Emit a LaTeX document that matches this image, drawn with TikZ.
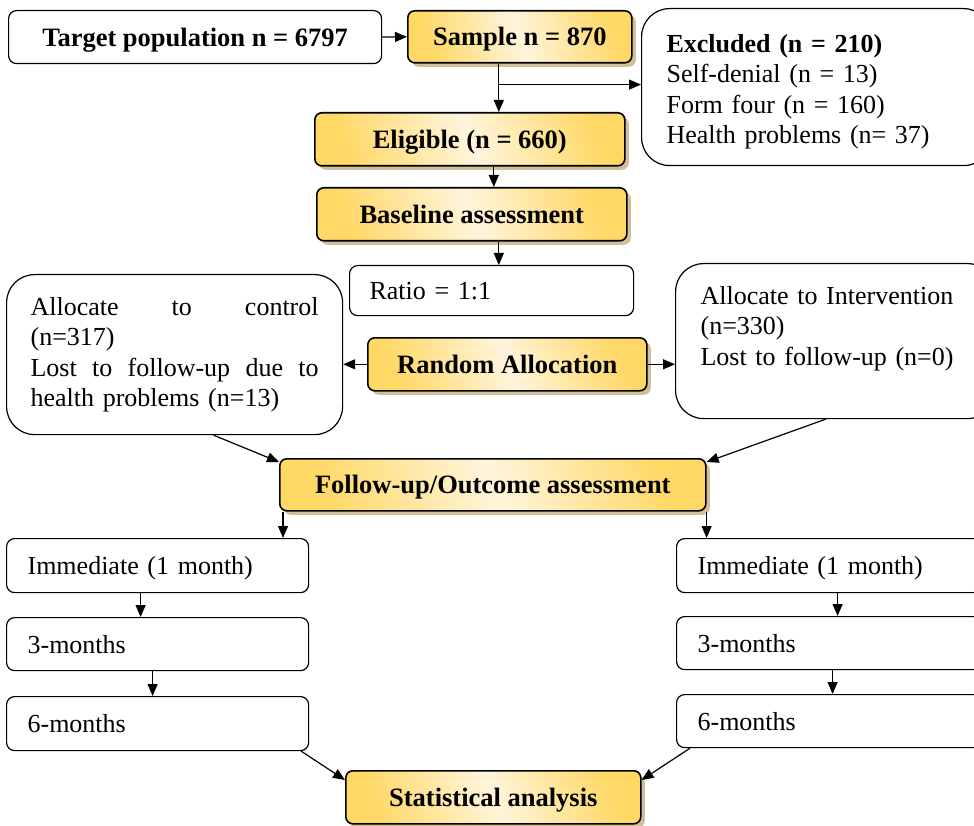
\documentclass[tikz,border=0pt]{standalone}
\usepackage{fontspec}
\setmainfont{Liberation Serif}
\usetikzlibrary{shadows,arrows.meta}
\definecolor{gold}{HTML}{FFD866}
\definecolor{lightgold}{HTML}{FFF5DC}
\definecolor{shadowc}{HTML}{CBB88C}
\begin{document}
\begin{tikzpicture}[x=1pt,y=-1pt,
  plain/.style={draw, line width=1.2pt, rounded corners=8pt, fill=white, anchor=north west,
    inner sep=0pt, font=\fontsize{26}{30.5}\selectfont},
  single/.style={text depth=0pt},
  bigbox/.style={plain, rounded corners=28pt},
  gbox/.style={draw, line width=1.6pt, rounded corners=7pt, anchor=north west, inner sep=0pt, text depth=0pt,
    drop shadow={shadow xshift=4pt, shadow yshift=-4pt, fill=shadowc, opacity=0.9},
    left color=gold, right color=gold, middle color=lightgold, shading angle=110,
    font=\bfseries\fontsize{26.5}{28}\selectfont},
  arr/.style={line width=1.2pt, -{Triangle[length=12pt,width=10pt]}}]
\useasboundingbox (0,0) rectangle (974,826);

\node[plain, single, font=\bfseries\fontsize{26.5}{28}\selectfont, minimum width=373pt, minimum height=53pt] (target) at (8,10) {Target population n = 6797};
\node[gbox, minimum width=224pt, minimum height=52pt] (sample) at (407,10) {Sample n = 870};
\node[bigbox, minimum width=340pt, minimum height=157pt, inner xsep=25pt, text width=300pt, align=left] (excl) at (641,8)
  {\rule{0pt}{27pt}\textbf{Excluded (n = 210)}\\Self-denial (n = 13)\\Form four (n = 160)\\Health problems (n= 37)};
\node[gbox, minimum width=310pt, minimum height=53pt] (elig) at (314,112) {Eligible (n = 660)};
\node[gbox, minimum width=310pt, minimum height=53pt] (base) at (316,187) {Baseline assessment};
\node[plain, single, minimum width=284pt, minimum height=50pt, inner xsep=20pt, text width=244pt, align=left] (ratio) at (349,265) {Ratio = 1:1};
\node[bigbox, minimum width=336pt, minimum height=160pt, inner xsep=24pt, text width=288pt, align=left] (ctrl) at (6,274)
  {Allocate\hfill to\hfill control\\(n=317)\\Lost\hfill to\hfill follow-up\hfill due\hfill to\\health problems (n=13)};
\node[gbox, minimum width=279pt, minimum height=53pt] (rand) at (367,337) {Random Allocation};
\node[bigbox, minimum width=320pt, minimum height=155pt, inner xsep=25pt, text width=270pt, align=left] (intv) at (675,263)
  {Allocate to Intervention\\(n=330)\\Lost to follow-up (n=0)\\\mbox{}};
\node[gbox, minimum width=426pt, minimum height=52pt] (follow) at (279,458) {Follow-up/Outcome assessment};

\node[plain, single, minimum width=302pt, minimum height=54pt, inner xsep=21pt, text width=260pt, align=left] (imL) at (6,538) {Immediate (1 month)};
\node[plain, single, minimum width=302pt, minimum height=53pt, inner xsep=21pt, text width=260pt, align=left] (m3L) at (6,617) {3-months};
\node[plain, single, minimum width=302pt, minimum height=54pt, inner xsep=21pt, text width=260pt, align=left] (m6L) at (6,696) {6-months};
\node[plain, single, minimum width=305pt, minimum height=54pt, inner xsep=21pt, text width=263pt, align=left] (imR) at (676,538) {Immediate (1 month)};
\node[plain, single, minimum width=305pt, minimum height=53pt, inner xsep=21pt, text width=263pt, align=left] (m3R) at (676,616) {3-months};
\node[plain, single, minimum width=305pt, minimum height=53pt, inner xsep=21pt, text width=263pt, align=left] (m6R) at (676,694) {6-months};
\node[gbox, minimum width=295pt, minimum height=53pt] (stat) at (345,770) {Statistical analysis};

\draw[arr] (target.east) -- (sample.west);
\draw[arr] ([xshift=-21pt]sample.south) -- ([xshift=-21pt]sample.south |- elig.north);
\coordinate (br) at ([xshift=-21pt,yshift=-21pt]sample.south);
\draw[arr] (br) -- (br -| excl.west);
\draw[arr] ([xshift=24pt]elig.south) -- ([xshift=24pt]elig.south |- base.north);
\draw[arr] ([xshift=27pt]base.south) -- ([xshift=27pt]base.south |- ratio.north);
\draw[arr] (rand.west) -- (rand.west -| ctrl.east);
\draw[arr] (rand.east) -- (rand.east -| intv.west);
\draw[arr] ([xshift=39pt]ctrl.south) -- ([yshift=-4pt]follow.north west);
\draw[arr] ([xshift=-10pt]intv.south) -- ([yshift=-4pt]follow.north east);
\draw[arr] ([xshift=4pt]follow.south west) -- ([xshift=4pt]follow.south west |- imL.north);
\draw[arr] (follow.south east) -- (follow.south east |- imR.north);
\draw[arr] ([xshift=-17pt]imL.south) -- ([xshift=-17pt]imL.south |- m3L.north);
\draw[arr] ([xshift=-5pt]m3L.south) -- ([xshift=-5pt]m3L.south |- m6L.north);
\draw[arr] ([xshift=8.5pt]imR.south) -- ([xshift=8.5pt]imR.south |- m3R.north);
\draw[arr] ([xshift=3.5pt]m3R.south) -- ([xshift=3.5pt]m3R.south |- m6R.north);
\draw[arr] ([xshift=-8pt]m6L.south east) -- ([yshift=-10pt]stat.north west);
\draw[arr] ([xshift=14pt]m6R.south west) -- ([yshift=-10pt]stat.north east);
\end{tikzpicture}
\end{document}
